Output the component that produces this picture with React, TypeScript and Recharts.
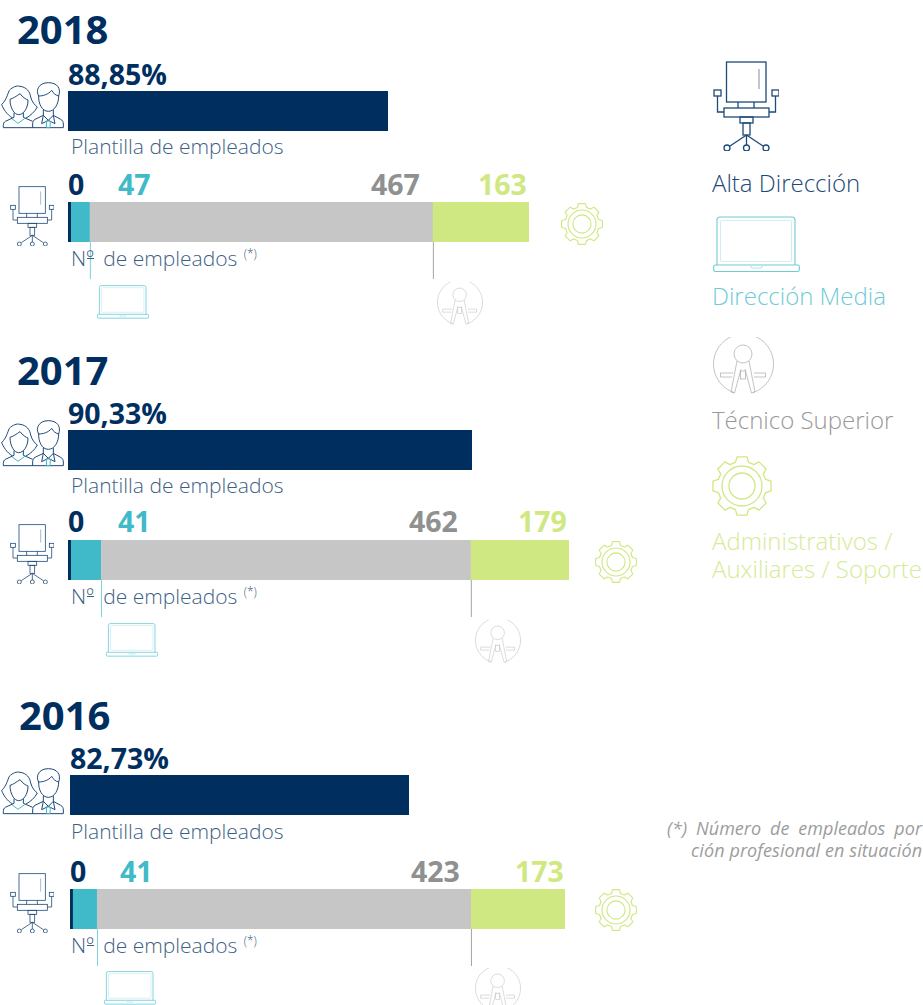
import { BarChart, Bar, XAxis, YAxis, Rectangle } from "recharts"

const NAVY = "#002f5f"
const TEAL = "#40bac8"
const GREY = "#c5c6c5"
const GREEN = "#cfe882"
const FONT = "'Open Sans', sans-serif"

const years = ["2018", "2017", "2016"]
const plantilla = [88.85, 90.33, 82.73]
const plantillaLabels = ["88,85%", "90,33%", "82,73%"]
const altaDireccion = [0, 0, 0]
const direccionMedia = [47, 41, 41]
const tecnicoSuperior = [467, 462, 423]
const administrativos = [163, 179, 173]
// the segments in the source are not to scale with their numbers, so lengths are read as % of each stacked bar
const altaShare = [0.65, 0.6, 0.6]
const mediaShare = [4.1, 6.0, 4.85]
const tecnicoShare = [74.4, 73.8, 75.55]
const adminShare = [20.85, 19.6, 19.0]

const panels = [
  { titleX: 17, titleY: 9, pctY: 56, barX: 68, barY: 91, barW: 320, subY: 132, numY: 166, stackY: 202, stackW: 461, numX: [68, 118, 371, 478], notaY: 244, laptopX: 97, laptopY: 285, compassX: 437, compassY: 282, gearX: 561, gearY: 203, chairY: 186, peopleY: 83 },
  { titleX: 17, titleY: 350, pctY: 395, barX: 68, barY: 430, barW: 404, subY: 471, numY: 503, stackY: 540, stackW: 501, numX: [68, 118, 409, 518], notaY: 582, laptopX: 106, laptopY: 623, compassX: 475, compassY: 620, gearX: 595, gearY: 541, chairY: 524, peopleY: 421 },
  { titleX: 19, titleY: 695, pctY: 740, barX: 70, barY: 775, barW: 339, subY: 817, numY: 853, stackY: 889, stackW: 495, numX: [70, 120, 411, 515], notaY: 931, laptopX: 104, laptopY: 971, compassX: 475, compassY: 968, gearX: 595, gearY: 889, chairY: 873, peopleY: 769 },
]

const numColors = [NAVY, TEAL, "#8f9090", GREEN]

function Chair({ x, y, w = 44 }: { x: number; y: number; w?: number }) {
  return (
    <svg style={{ position: "absolute", left: x, top: y }} width={w} height={(w * 90) / 66} viewBox="0 0 66 90" fill="none" stroke="#1d4a78" strokeWidth={w > 50 ? 1.3 : 1.2}>
      <rect x={13.5} y={1} width={39.5} height={40} />
      <path d="M46 8V28" stroke="#9aa9ba" />
      <path d="M25 41V47M41 41V47" />
      <rect x={11} y={47} width={45} height={9} />
      <rect x={1} y={29} width={7} height={6} />
      <rect x={59} y={29} width={7} height={6} />
      <path d="M4.5 35V51H11M62.5 35V51H56" />
      <rect x={27} y={56} width={13} height={6} />
      <rect x={30} y={62} width={7} height={12} />
      <path d="M33.5 74L17 85M33.5 74L50 85M33.5 74V84" />
      <circle cx={14} cy={87} r={3} />
      <circle cx={33.5} cy={87} r={3} />
      <circle cx={53} cy={87} r={3} />
    </svg>
  )
}

function Laptop({ x, y, w = 52 }: { x: number; y: number; w?: number }) {
  return (
    <svg style={{ position: "absolute", left: x, top: y }} width={w} height={(w * 57) / 87} viewBox="0 0 87 57" fill="none" stroke="#6fcbd6" strokeWidth={w > 60 ? 1.1 : 1.4}>
      <path d="M4 49V4a3 3 0 0 1 3-3H79a3 3 0 0 1 3 3V49" />
      <rect x={7.5} y={4.5} width={71} height={41} rx={1.5} stroke="#d2eef1" />
      <rect x={0.7} y={49} width={85.6} height={6.5} rx={1.5} />
      <path d="M38 49v1.5a1.5 1.5 0 0 0 1.5 1.5h8a1.5 1.5 0 0 0 1.5-1.5V49" stroke="#b5e3e9" />
    </svg>
  )
}

function Compass({ x, y, w = 46 }: { x: number; y: number; w?: number }) {
  const big = w > 50
  return (
    <svg style={{ position: "absolute", left: x, top: y }} width={w} height={(w * 57) / 61} viewBox="0 0 61 57" fill="none" stroke={big ? "#a9a9a9" : "#c4c4c4"} strokeWidth={big ? 0.7 : 0.8}>
      <path d="M21 55.5A30 30 0 1 1 40 55.5" />
      <circle cx={30} cy={17} r={9} />
      <path d="M24 24L18 55L21.5 56L28 32M36 24L42 55L38.5 56L32 32" />
      <path d="M20 36H7.5V40H19M41 36H52.5V40H41" />
      <rect x={27.5} y={34} width={5} height={8} />
    </svg>
  )
}

// outline of an 8 tooth cog, only for the icon
function gearPath() {
  const pts: string[] = []
  for (let i = 0; i < 8; i++) {
    const a = (i * Math.PI) / 4
    const corners: [number, number][] = [[24.5, -0.27], [29.5, -0.17], [29.5, 0.17], [24.5, 0.27]]
    corners.forEach(([r, d]) => {
      pts.push(`${(30 + r * Math.sin(a + d)).toFixed(2)} ${(30 - r * Math.cos(a + d)).toFixed(2)}`)
    })
  }
  return "M" + pts.join("L") + "Z"
}

function Gear({ x, y, w = 42 }: { x: number; y: number; w?: number }) {
  return (
    <svg style={{ position: "absolute", left: x, top: y }} width={w} height={w} viewBox="0 0 60 60" fill="none" stroke={GREEN} strokeWidth={w > 50 ? 1.3 : 1.6}>
      <path d={gearPath()} strokeLinejoin="round" />
      <circle cx={30} cy={30} r={20} />
      <circle cx={30} cy={30} r={13} />
    </svg>
  )
}

function People({ y }: { y: number }) {
  return (
    <svg style={{ position: "absolute", left: 0, top: y - 1 }} width={66} height={48} viewBox="0 20 198 144" fill="none" stroke="#1d4a78" strokeWidth={3}>
      <path d="M38 128C20 118 10 100 5 88C20 72 22 58 28 45C38 35 50 30 60 33C80 35 90 50 92 65C96 80 105 90 112 95C104 110 90 122 78 128" />
      <path d="M30 72C38 70 50 62 60 55C68 66 78 72 84 74C84 100 70 118 56 118C44 118 30 100 30 72Z" />
      <path d="M42 112V126L16 138C12 140 10 145 10 150V157H190V146C190 140 188 135 182 132L160 120V104M70 112V126L98 138" />
      <path d="M36 130L54 144L76 128" stroke={TEAL} />
      <path d="M116 62C115 85 126 108 145 108C164 108 176 85 176 62" />
      <path d="M116 62C106 45 116 22 145 22C172 22 184 40 176 62C168 60 160 55 155 45C145 58 128 62 116 62Z" />
      <path d="M130 104V120L105 132C100 135 98 140 98 146V157" />
      <path d="M130 120L145 135L160 120M145 135L125 145L130 120M145 135L165 145L160 120" />
      <path d="M139 137H151L150 157H140Z" stroke={TEAL} />
    </svg>
  )
}

function Leader({ color, from }: { color: string; from: "top" | "bottom" }) {
  return (props: any) => {
    const { x, y, width, height, fill } = props
    const lx = x + width + 0.5
    return (
      <g>
        <Rectangle x={x} y={y} width={width} height={height} fill={fill} />
        <line x1={lx} x2={lx} y1={from === "top" ? y : y + height} y2={y + height + 37} stroke={color} strokeWidth={1} />
      </g>
    )
  }
}

function Plain({ x, y, w, h, children, style }: any) {
  return <div style={{ position: "absolute", left: x, top: y, width: w, height: h, whiteSpace: "nowrap", ...style }}>{children}</div>
}

function Panel({ i }: { i: number }) {
  const p = panels[i]
  const subColor = "#3d5f85"
  const vals = [altaDireccion[i], direccionMedia[i], tecnicoSuperior[i], administrativos[i]]
  const plantillaData = [{ name: years[i], plantilla: plantilla[i] }]
  const stackData = [{ name: years[i], alta: altaShare[i], media: mediaShare[i], tecnico: tecnicoShare[i], admin: adminShare[i] }]
  return (
    <>
      <Plain x={p.titleX} y={p.titleY} style={{ fontSize: 40, fontWeight: 700, color: NAVY, lineHeight: "40px" }}>{years[i]}</Plain>
      <Plain x={p.barX} y={p.pctY} style={{ fontSize: 28.5, fontWeight: 700, color: NAVY, lineHeight: "36px" }}>{plantillaLabels[i]}</Plain>
      <People y={p.peopleY} />
      <div style={{ position: "absolute", left: p.barX, top: p.barY }}>
        <BarChart width={p.barW} height={40} data={plantillaData} layout="vertical" margin={{ left: 0, right: 0, top: 0, bottom: 0 }} barCategoryGap={0}>
          <XAxis type="number" hide domain={[0, plantilla[i]]} />
          <YAxis type="category" dataKey="name" hide />
          <Bar dataKey="plantilla" fill={NAVY} isAnimationActive={false} />
        </BarChart>
      </div>
      <Plain x={71} y={p.subY} style={{ fontSize: 21, fontWeight: 300, color: subColor, lineHeight: "28px" }}>Plantilla de empleados</Plain>

      {vals.map((v, k) => (
        <Plain key={k} x={p.numX[k]} y={p.numY} style={{ fontSize: 28.5, fontWeight: 700, color: numColors[k], lineHeight: "36px" }}>{v}</Plain>
      ))}
      <Chair x={10} y={p.chairY} />
      <div style={{ position: "absolute", left: p.barX, top: p.stackY }}>
        <BarChart width={p.stackW} height={80} data={stackData} layout="vertical" margin={{ left: 0, right: 0, top: 0, bottom: 40 }} barCategoryGap={0}>
          <XAxis type="number" hide domain={[0, 100]} />
          <YAxis type="category" dataKey="name" hide />
          <Bar dataKey="alta" stackId="a" fill={NAVY} isAnimationActive={false} />
          <Bar dataKey="media" stackId="a" fill={TEAL} isAnimationActive={false} shape={Leader({ color: "#7fd0da", from: "bottom" })} />
          <Bar dataKey="tecnico" stackId="a" fill={GREY} isAnimationActive={false} shape={Leader({ color: "#a3a4a3", from: "top" })} />
          <Bar dataKey="admin" stackId="a" fill={GREEN} isAnimationActive={false} />
        </BarChart>
      </div>
      <Plain x={71} y={p.notaY} style={{ fontSize: 21, fontWeight: 300, color: subColor, lineHeight: "28px" }}>
        N<span style={{ position: "relative", marginRight: 4 }}>º<span style={{ position: "absolute", left: 1, right: 0, top: 14, height: 1, background: subColor }} /></span> de empleados <span style={{ fontSize: 12, position: "relative", top: -8, marginLeft: 1 }}>(*)</span>
      </Plain>
      <Laptop x={p.laptopX} y={p.laptopY} />
      <Compass x={p.compassX} y={p.compassY} />
      <Gear x={p.gearX} y={p.gearY} />
    </>
  )
}

export default function App() {
  const leg = { fontSize: 24, fontWeight: 300, lineHeight: "28px" }
  const note = { fontSize: 18, fontStyle: "italic", fontWeight: 400, color: "#9c9d9d", lineHeight: "22px" }
  return (
    <div style={{ position: "absolute", left: 0, top: 0, width: 923, height: 1005, overflow: "hidden", background: "#fff", fontFamily: FONT }}>
      {panels.map((_, i) => <Panel key={i} i={i} />)}

      <Chair x={713} y={61} w={66} />
      <Plain x={712} y={169} style={{ ...leg, color: "#1d4a78" }}>Alta Dirección</Plain>
      <Laptop x={713} y={216} w={87} />
      <Plain x={712} y={282} style={{ ...leg, color: "#6fcbd6" }}>Dirección Media</Plain>
      <Compass x={713} y={337} w={61} />
      <Plain x={712} y={406} style={{ ...leg, color: "#999" }}>Técnico Superior</Plain>
      <Gear x={712} y={456} w={60} />
      <Plain x={712} y={527} style={{ ...leg, color: "#d5eb97" }}>Administrativos /<br />Auxiliares / Soporte</Plain>

      <Plain x={667} y={817} style={{ ...note, wordSpacing: 4.3 }}>(*) Número de empleados por</Plain>
      <Plain x={691} y={839} style={{ ...note, letterSpacing: 0.1 }}>ción profesional en situación</Plain>
    </div>
  )
}
